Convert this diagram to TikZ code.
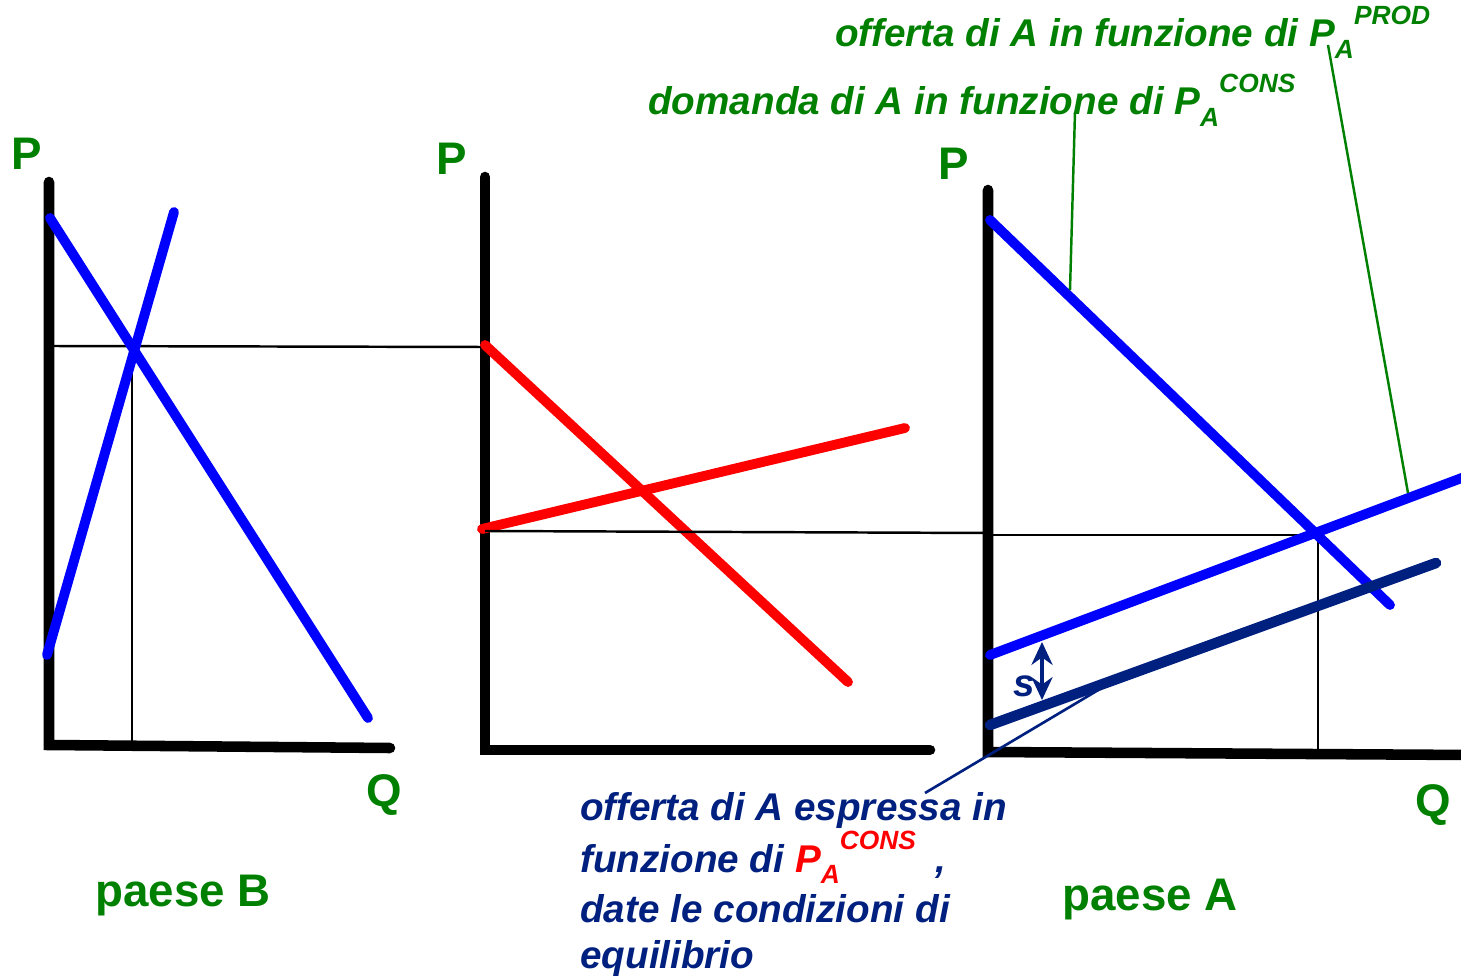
\documentclass[tikz,border=0pt]{standalone}
\usepackage{fontspec}
\setmainfont{Liberation Sans}
\usetikzlibrary{arrows.meta}
\definecolor{grn}{RGB}{0,128,0}
\definecolor{navy}{RGB}{0,32,128}
\definecolor{pblue}{RGB}{0,0,255}
\definecolor{pred}{RGB}{255,0,0}
\newcommand{\subsupx}[2]{\raisebox{-0.30em}{\fontsize{15}{15}\selectfont #1}\raisebox{0.58em}{\fontsize{15}{15}\selectfont #2}}
\begin{document}
\begin{tikzpicture}[x=0.02cm,y=-0.02cm,
  axis/.style={line width=6pt,line cap=round,black},
  curveb/.style={line width=5.6pt,line cap=round,pblue},
  curver/.style={line width=5.6pt,line cap=round,pred},
  curven/.style={line width=6pt,line cap=round,navy},
  thin/.style={line width=1.4pt,black},
  glead/.style={line width=1.4pt,grn},
  axlab/.style={font=\fontsize{26}{26}\selectfont\bfseries,text=grn,inner sep=0pt},
  itlab/.style={font=\fontsize{22}{22}\selectfont\bfseries\itshape,inner sep=0pt,anchor=base west}]
\useasboundingbox (0,0) rectangle (1461,979);

% ---- panel B ----
\coordinate (bO) at (49,745);
\coordinate (bT) at (49,182);
\coordinate (bR) at (390,748);
\draw[axis] (bT) -- (bO) -- (bR);
\coordinate (bE) at (132,346);
\coordinate (bEx) at (132,745);
\coordinate (mE) at (485,347);
\draw[thin] (49,346) -- (mE);
\draw[thin] (bE) -- (bEx);
\coordinate (bd1) at (50,218); \coordinate (bd2) at (368,718);
\coordinate (bs1) at (47,655); \coordinate (bs2) at (174,212);
\draw[curveb] (bd1) -- (bd2);
\draw[curveb] (bs1) -- (bs2);
\node[axlab,anchor=base] (PB) at (27,170) {P};
\node[axlab,anchor=base] (QB) at (384,806) {Q};
\node[axlab,anchor=base] (paeseB) at (183,906) {paese B};

% ---- middle panel ----
\coordinate (mO) at (485,750);
\coordinate (mT) at (485,177);
\coordinate (mR) at (930,750);
\draw[axis] (mT) -- (mO) -- (mR);
\coordinate (md1) at (485,345); \coordinate (md2) at (848,682);
\coordinate (ms1) at (482,529); \coordinate (ms2) at (905,428);
\draw[curver] (md1) -- (md2);
\draw[curver] (ms1) -- (ms2);
\coordinate (mW) at (485,531);
\coordinate (aW) at (988,533);
\draw[thin] (mW) -- (aW);
\node[axlab,anchor=base] (PM) at (452,175) {P};

% ---- panel A ----
\coordinate (aO) at (988,752);
\coordinate (aT) at (988,190);
\coordinate (aR) at (1470,755);
\draw[axis] (aT) -- (aO) -- (aR);
\coordinate (aE) at (1318,535);
\coordinate (aEx) at (1318,752);
\draw[thin] (988,535) -- (aE) -- (aEx);
\coordinate (ad1) at (990,220); \coordinate (ad2) at (1390,605);
\coordinate (as1) at (990,655); \coordinate (as2) at (1475,473);
\coordinate (an1) at (990,725); \coordinate (an2) at (1436,563);
\draw[curveb] (ad1) -- (ad2);
\draw[curveb] (as1) -- (as2);
\draw[curven] (an1) -- (an2);
\coordinate (sT) at (1042,642);
\coordinate (sB) at (1042,700);
\draw[navy,line width=2pt,{Stealth[length=13pt,width=12pt]}-{Stealth[length=13pt,width=12pt]}] (sT) -- (sB);
\node[font=\fontsize{22}{22}\selectfont\bfseries\itshape,text=navy,inner sep=0pt,anchor=base] (s) at (1024,697) {s};
\node[axlab,anchor=base] (PA) at (954,180) {P};
\node[axlab,anchor=base] (QA) at (1433,816) {Q};
\node[axlab,anchor=base] (paeseA) at (1150,910) {paese A};

% ---- green labels ----
\node[itlab,text=grn] (offA) at (835,47) {offerta di A in funzione di P\subsupx{A}{PROD}};
\node[itlab,text=grn] (domA) at (648,115) {domanda di A in funzione di P\subsupx{A}{CONS}};
\coordinate (g1a) at (1075,112);
\coordinate (g1b) at (1070,290);
\draw[glead] (g1a) -- (g1b);
\coordinate (g2a) at (1328,45);
\coordinate (g2b) at (1408,493);
\draw[glead] (g2a) -- (g2b);

% ---- navy label ----
\node[itlab,text=navy] (l1) at (580,820) {offerta di A espressa in};
\node[itlab,text=navy] (l2) at (580,872) {funzione di \textcolor{pred}{P\subsupx{A}{CONS}}\hspace{0.5em},};
\node[itlab,text=navy] (l3) at (580,922) {date le condizioni di};
\node[itlab,text=navy] (l4) at (580,968) {equilibrio};
\coordinate (nl1) at (925,793);
\coordinate (nl2) at (1105,686);
\draw[navy,line width=1.5pt] (nl1) -- (nl2);
\end{tikzpicture}
\end{document}
